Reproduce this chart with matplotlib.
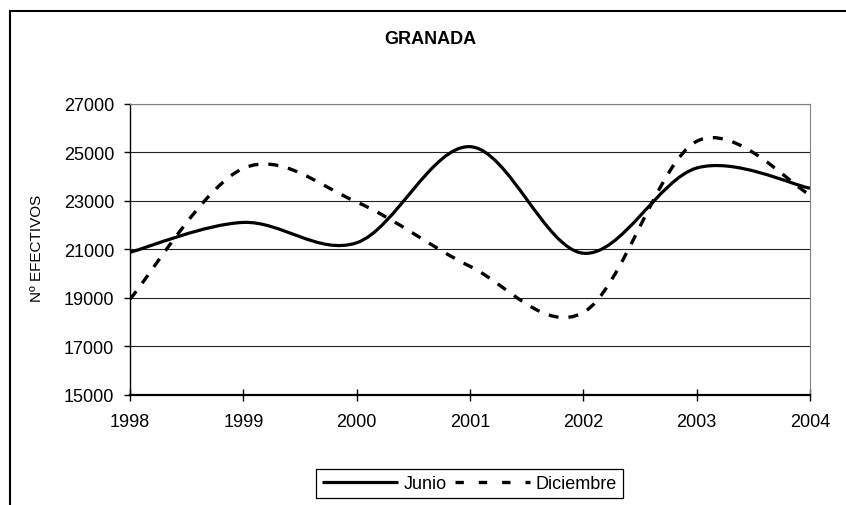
import matplotlib
matplotlib.use("Agg")
import matplotlib.pyplot as plt
from matplotlib.path import Path
from matplotlib.patches import PathPatch, Rectangle
from matplotlib.lines import Line2D

plt.rcParams['font.family'] = ['Liberation Sans', 'DejaVu Sans']

# datos
years = [1998, 1999, 2000, 2001, 2002, 2003, 2004]
junio = [20880, 22110, 21270, 25230, 20840, 24350, 23520]
diciembre = [18950, 24340, 22950, 20300, 18400, 25450, 23250]
yticks = [15000, 17000, 19000, 21000, 23000, 25000, 27000]


def smooth_path(xs, ys):
    """curva suavizada tipo Excel (Bezier cubica entre puntos)"""
    n = len(xs)
    pts = list(zip(xs, ys))
    verts = [pts[0]]
    codes = [Path.MOVETO]
    for i in range(n - 1):
        p_prev = pts[i - 1] if i > 0 else pts[i]
        p0 = pts[i]
        p1 = pts[i + 1]
        p_next = pts[i + 2] if i + 2 < n else pts[i + 1]
        c1 = (p0[0] + (p1[0] - p_prev[0]) / 6, p0[1] + (p1[1] - p_prev[1]) / 6)
        c2 = (p1[0] - (p_next[0] - p0[0]) / 6, p1[1] - (p_next[1] - p0[1]) / 6)
        verts += [c1, c2, p1]
        codes += [Path.CURVE4] * 3
    return Path(verts, codes)


W, H = 846, 506
fig = plt.figure(figsize=(W / 100, H / 100), dpi=100)
ax = fig.add_axes([130 / W, 1 - 396 / H, 680 / W, 291.3 / H])

ax.set_xlim(1998, 2004)
ax.set_ylim(15000, 27000)
ax.set_xticks(years)
ax.set_yticks(yticks)
ax.set_xticklabels([str(y) for y in years])
ax.set_yticklabels([str(v) for v in yticks])
ax.grid(axis='y', color='#222222', linewidth=0.8)
ax.set_axisbelow(True)

ax.tick_params(axis='x', direction='inout', length=8, width=1, pad=9, labelsize=13)
ax.tick_params(axis='y', direction='out', length=4.5, width=1, pad=7, labelsize=13)

for side in ['top', 'right']:
    ax.spines[side].set_color('#808080')
    ax.spines[side].set_linewidth(0.8)
ax.spines['left'].set_linewidth(1.0)
ax.spines['bottom'].set_linewidth(1.6)

ax.add_patch(PathPatch(smooth_path(years, junio), fill=False, color='black',
                       lw=2.3, capstyle='butt', zorder=3))
ax.add_patch(PathPatch(smooth_path(years, diciembre), fill=False, color='black',
                       lw=2.4, linestyle=(0, (3, 3)), capstyle='butt', zorder=3))

ax.set_ylabel('Nº EFECTIVOS', fontsize=11)
ax.yaxis.set_label_coords(44 / W, 1 - 248 / H, transform=fig.transFigure)

fig.text(430 / W, 1 - 39 / H, 'GRANADA', ha='center', va='center',
         fontsize=13, fontweight='bold')

# borde del area del grafico (cortado a la derecha y abajo)
fig.patches.append(Rectangle((9.5 / W, -0.1), 1.2, 1.1 - 12 / H, transform=fig.transFigure,
                             fill=False, edgecolor='black', lw=1.5, clip_on=False))

handles = [Line2D([], [], color='black', lw=2.3, solid_capstyle='butt'),
           Line2D([], [], color='black', lw=2.4, linestyle=(0, (2.5, 4.5)), dash_capstyle='butt')]
leg = fig.legend(handles, ['Junio', 'Diciembre'], loc='center',
                 bbox_to_anchor=(469.5 / W, 1 - 484.5 / H), ncol=2, fontsize=13,
                 frameon=True, fancybox=False, edgecolor='black', framealpha=1,
                 handlelength=4.2, handletextpad=0.3, columnspacing=0.45,
                 borderpad=0.35, borderaxespad=0)
leg.get_frame().set_linewidth(0.9)

fig.savefig('out.png', dpi=100)
